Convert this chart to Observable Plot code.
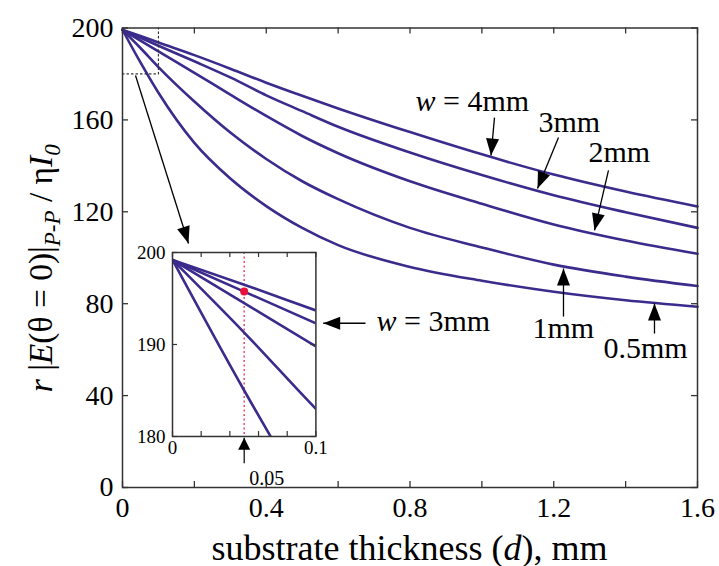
<!DOCTYPE html>
<html><head><meta charset="utf-8">
<script src="https://cdn.jsdelivr.net/npm/d3@7"></script>
<script src="https://cdn.jsdelivr.net/npm/@observablehq/plot@0.6"></script>
<style>
body{margin:0;background:#fff;}
#wrap{position:relative;width:719px;height:566px;overflow:hidden;}
#wrap svg{position:absolute;overflow:visible;}
</style></head><body><div id="wrap"></div>
<script>
// ---- data ----
const thickness = [0, 0.05, 0.1, 0.2, 0.3, 0.4, 0.5, 0.6, 0.8, 1.0, 1.2, 1.4, 1.6];
const w4mm  = [199.2, 196.5, 193.7, 188.2, 182.3, 176.2, 170.5, 165.0, 154.7, 145.0, 136.2, 128.8, 122.3];
const w3mm  = [199.2, 195.75, 192.3, 185.5, 178.5, 170.7, 163.8, 157.0, 145.8, 136.0, 127.2, 119.8, 113.0];
const w2mm  = [199.2, 194.5, 189.8, 180.5, 171.0, 161.7, 153.0, 145.5, 133.3, 123.5, 114.5, 107.5, 101.7];
const w1mm  = [199.2, 191.3, 183.0, 168.0, 154.5, 143.0, 133.3, 125.5, 113.0, 104.5, 97.0, 91.8, 87.7];
const w05mm = [199.2, 185.0, 171.8, 150.0, 134.5, 122.5, 113.0, 105.5, 96.0, 90.0, 85.2, 81.5, 78.7];
const seriesNames = ["4mm", "3mm", "2mm", "1mm", "0.5mm"];
const seriesValues = [w4mm, w3mm, w2mm, w1mm, w05mm];

const xTicks = [0, 0.2, 0.4, 0.6, 0.8, 1.0, 1.2, 1.4, 1.6];
const xLabels = [0, 0.4, 0.8, 1.2, 1.6];
const yTicks = [0, 40, 80, 120, 160, 200];
const insetXTicks = [0, 0.02, 0.04, 0.06, 0.08, 0.1];
const insetXLabels = [0, 0.1];
const insetYTicks = [180, 190, 200];
const highlightD = 0.05;
const highlightValue = 195.75;

// annotation anchors (data coordinates)
const curveLabels = [
  {x: 0.8153, y: 168.1, text: "w = 4mm"},
  {x: 1.1576, y: 159.0, text: "3mm"},
  {x: 1.2967, y: 145.9, text: "2mm"},
  {x: 1.1409, y: 69.2, text: "1mm"},
  {x: 1.3384, y: 60.5, text: "0.5mm"},
  {x: 0.7068, y: 72.4, text: "w = 3mm"}
];
const mainArrows = [
  {x1: 1.0351, y1: 161.0, x2: 1.0254, y2: 144.5},
  {x1: 1.2132, y1: 152.3, x2: 1.1548, y2: 130.1},
  {x1: 1.3523, y1: 138.0, x2: 1.3134, y2: 111.9},
  {x1: 1.2271, y1: 74.4, x2: 1.2271, y2: 95.3},
  {x1: 1.4803, y1: 67.0, x2: 1.4803, y2: 80.1},
  {x1: 0.6762, y1: 71.5, x2: 0.5585, y2: 71.5},
  {x1: 0.0362, y1: 179.3, x2: 0.1837, y2: 106.2}
];
const zoomBox = [{x: 0, y: 180}, {x: 0.1, y: 180}, {x: 0.1, y: 200}];
const insetArrow = [{x1: 0.05, y1: 177.1, x2: 0.05, y2: 179.85}];
const insetNote = [{x: 0.0535, y: 175.4, text: "0.05"}];

// ---- layout ----
const W = 719, H = 566, mL = 122, mR = 22, mT = 27.5, mB = 79;
const plotW = W - mL - mR, plotH = H - mT - mB;
const font = "Liberation Serif, serif";
const lineColor = "#3b2b8c";
const frameColor = "#333";

const rows = seriesNames.flatMap((name, i) => thickness.map((d, j) => ({name, d, v: seriesValues[i][j]})));
const sx = plotW / 1.6, sy = plotH / 200;
const rot = (a, kx, ky) => Math.atan2((a.x2 - a.x1) * kx, (a.y2 - a.y1) * ky) * 180 / Math.PI;

const main = Plot.plot({
  width: W, height: H, marginLeft: mL, marginRight: mR, marginTop: mT, marginBottom: mB,
  x: {domain: [0, 1.6]}, y: {domain: [0, 200]},
  style: {fontFamily: font, background: "white"},
  marks: [
    Plot.line(rows, {x: "d", y: "v", z: "name", stroke: lineColor, strokeWidth: 2.6, curve: "monotone-x"}),
    Plot.line(zoomBox, {x: "x", y: "y", stroke: frameColor, strokeWidth: 1.2, strokeDasharray: "1.5,3"}),
    Plot.frame({stroke: frameColor, strokeWidth: 1.5}),
    Plot.tickX(xTicks, {x: d => d, insetTop: plotH - 6, stroke: frameColor, strokeWidth: 1.3}),
    Plot.tickX(xTicks, {x: d => d, insetBottom: plotH - 6, stroke: frameColor, strokeWidth: 1.3}),
    Plot.tickY(yTicks, {y: d => d, insetRight: plotW - 6, stroke: frameColor, strokeWidth: 1.3}),
    Plot.tickY(yTicks, {y: d => d, insetLeft: plotW - 6, stroke: frameColor, strokeWidth: 1.3}),
    Plot.axisX({ticks: xLabels, tickSize: 0, tickPadding: 10, fontSize: 28, fontFamily: font, fill: "black", tickFormat: d => String(d), label: null}),
    Plot.axisY({ticks: yTicks, tickSize: 0, tickPadding: 9, fontSize: 28, fontFamily: font, fill: "black", tickFormat: d => String(d), label: null}),
    Plot.link(mainArrows, {x1: "x1", y1: "y1", x2: "x2", y2: "y2", stroke: "black", strokeWidth: 1.3}),
    Plot.vector(mainArrows, {x: "x2", y: "y2", rotate: d => rot(d, sx, sy), length: 17, r: 6.5, shape: "spike", anchor: "end", fill: "black", stroke: "none"}),
    Plot.text(curveLabels, {x: "x", y: "y", text: "text", textAnchor: "start", fontSize: 30, fontFamily: font, fill: "black"})
  ]
});
main.style.left = "0px"; main.style.top = "0px";

// italic "w" in labels
d3.select(main).selectAll("text").each(function() {
  const t = this.textContent;
  if (t.startsWith("w = ")) {
    const el = d3.select(this); el.text(null);
    el.append("tspan").attr("font-style", "italic").text("w");
    el.append("tspan").text(t.slice(1));
  }
});

// axis titles
const svg = d3.select(main);
const xt = svg.append("text").attr("x", mL + plotW / 2).attr("y", 559.5).attr("text-anchor", "middle")
  .attr("font-size", 36).attr("font-family", font).attr("fill", "black");
xt.append("tspan").text("substrate thickness (");
xt.append("tspan").attr("font-style", "italic").text("d");
xt.append("tspan").text("), mm");

const yt = svg.append("text").attr("transform", `translate(52,${mT + plotH / 2 + 11}) rotate(-90)`)
  .attr("text-anchor", "middle").attr("font-size", 33.5).attr("font-family", font).attr("fill", "black");
yt.append("tspan").attr("font-style", "italic").text("r");
yt.append("tspan").text(" |");
yt.append("tspan").attr("font-style", "italic").text("E");
yt.append("tspan").text("(θ = 0)|");
yt.append("tspan").attr("font-style", "italic").attr("font-size", 23).attr("dy", 8).text("P-P");
yt.append("tspan").attr("dy", -8).text(" / η");
yt.append("tspan").attr("font-style", "italic").text("I");
yt.append("tspan").attr("font-style", "italic").attr("font-size", 23).attr("dy", 8).text("0");

document.getElementById("wrap").appendChild(main);

// ---- inset ----
const iL = 50, iT = 16, iW = 143.4, iH = 184, iR = 14, iB = 62;
const isx = iW / 0.1, isy = iH / 20;
const inset = Plot.plot({
  width: iL + iW + iR, height: iT + iH + iB,
  marginLeft: iL, marginRight: iR, marginTop: iT, marginBottom: iB,
  x: {domain: [0, 0.1]}, y: {domain: [180, 200]},
  style: {fontFamily: font, background: "transparent", overflow: "visible"},
  marks: [
    Plot.frame({fill: "white", stroke: "none"}),
    Plot.ruleX([highlightD], {stroke: "#e8577a", strokeWidth: 1.6, strokeDasharray: "2,2.5"}),
    Plot.line(rows.filter(r => r.d <= 0.2), {x: "d", y: "v", z: "name", stroke: lineColor, strokeWidth: 2.6, curve: "monotone-x", clip: true}),
    Plot.dot([{x: highlightD, y: highlightValue}], {x: "x", y: "y", r: 4, fill: "#e8113b", stroke: "none"}),
    Plot.frame({stroke: frameColor, strokeWidth: 1.5}),
    Plot.tickX(insetXTicks, {x: d => d, insetTop: iH - 5, stroke: frameColor, strokeWidth: 1.2}),
    Plot.tickX(insetXTicks, {x: d => d, insetBottom: iH - 5, stroke: frameColor, strokeWidth: 1.2}),
    Plot.tickY(insetYTicks, {y: d => d, insetRight: iW - 5, stroke: frameColor, strokeWidth: 1.2}),
    Plot.tickY(insetYTicks, {y: d => d, insetLeft: iW - 5, stroke: frameColor, strokeWidth: 1.2}),
    Plot.axisX({ticks: insetXLabels, tickSize: 0, tickPadding: 4, fontSize: 19, fontFamily: font, fill: "black", tickFormat: d => String(d), label: null}),
    Plot.axisY({ticks: insetYTicks, tickSize: 0, tickPadding: 7, fontSize: 19, fontFamily: font, fill: "black", tickFormat: d => String(d), label: null}),
    Plot.link(insetArrow, {x1: "x1", y1: "y1", x2: "x2", y2: "y2", stroke: "black", strokeWidth: 1.2}),
    Plot.vector(insetArrow, {x: "x2", y: "y2", rotate: d => rot(d, isx, isy), length: 12, r: 6, shape: "spike", anchor: "end", fill: "black", stroke: "none"}),
    Plot.text(insetNote, {x: "x", y: "y", text: "text", textAnchor: "start", fontSize: 20, fontFamily: font, fill: "black"})
  ]
});
inset.style.left = "122px"; inset.style.top = (251.7 - iT) + "px";
document.getElementById("wrap").appendChild(inset);
</script></body></html>
